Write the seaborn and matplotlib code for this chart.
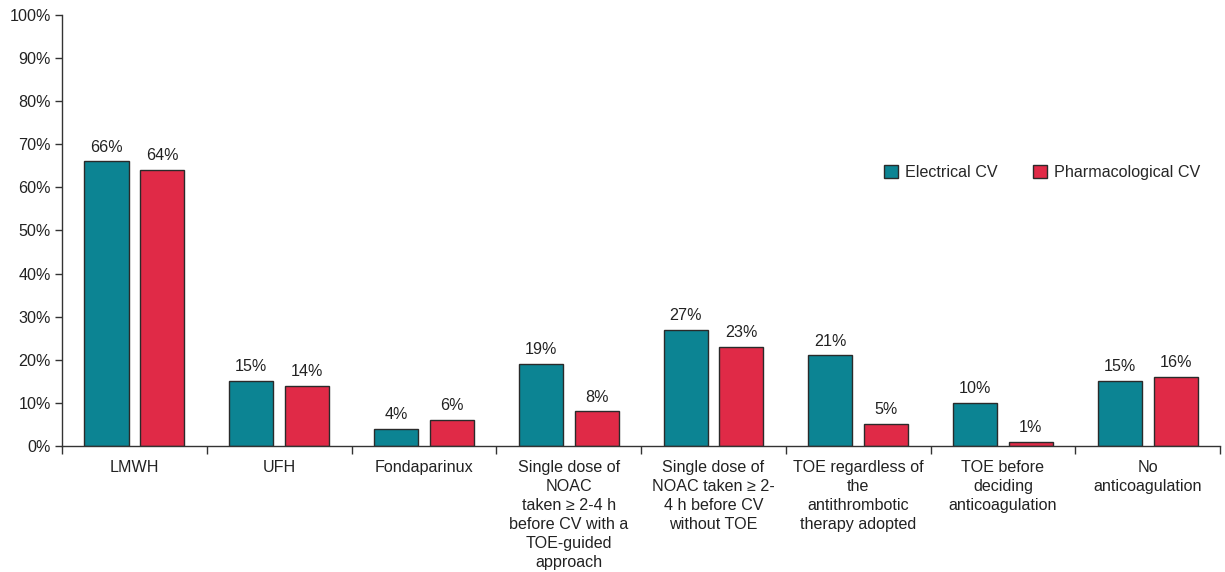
import matplotlib
matplotlib.use("Agg")
import matplotlib.pyplot as plt
import seaborn as sns
import pandas as pd
import numpy as np

categories = [
    "LMWH",
    "UFH",
    "Fondaparinux",
    "Single dose of\nNOAC\ntaken \u2265 2-4 h\nbefore CV with a\nTOE-guided\napproach",
    "Single dose of\nNOAC taken \u2265 2-\n4 h before CV\nwithout TOE",
    "TOE regardless of\nthe\nantithrombotic\ntherapy adopted",
    "TOE before\ndeciding\nanticoagulation",
    "No\nanticoagulation",
]
series_names = ["Electrical CV", "Pharmacological CV"]
electrical = [66, 15, 4, 19, 27, 21, 10, 15]
pharmacological = [64, 14, 6, 8, 23, 5, 1, 16]
y_ticks = list(range(0, 101, 10))
colors = ["#0c8493", "#e02a47"]

df = pd.DataFrame({
    "category": categories * 2,
    "value": electrical + pharmacological,
    "series": [series_names[0]] * len(categories) + [series_names[1]] * len(categories),
})

sns.set_theme(style="white")
plt.rcParams["font.family"] = ["Liberation Sans", "DejaVu Sans"]

FS = 11.6
fig, ax = plt.subplots(figsize=(12.25, 5.72), dpi=100)
fig.subplots_adjust(left=0.0506, right=0.996, top=0.974, bottom=0.2203)

sns.barplot(data=df, x="category", y="value", hue="series", order=categories,
            hue_order=series_names, palette=colors, width=0.77, gap=0.21,
            edgecolor="#2a2a2a", linewidth=1.0, saturation=1, ax=ax)

for c in ax.containers:
    ax.bar_label(c, fmt="%d%%", padding=5, fontsize=FS, color="#222222")

ax.set_ylim(0, 100)
ax.set_xlim(-0.5, len(categories) - 0.5)
ax.set_yticks(y_ticks)
ax.set_yticklabels([f"{t}%" for t in y_ticks], fontsize=FS, color="#222222")
ax.set_xticks(range(len(categories)))
ax.set_xticklabels(categories, fontsize=FS, color="#222222", linespacing=1.33, va="top")
ax.set_xticks(np.arange(-0.5, len(categories)), minor=True)
ax.tick_params(axis="x", which="major", length=0, pad=10)
ax.tick_params(axis="x", which="minor", length=6, width=1, color="#333333", direction="out", bottom=True)
ax.tick_params(axis="y", length=5, width=1, color="#333333", direction="out", left=True, pad=3)
ax.set_xlabel("")
ax.set_ylabel("")

for s in ["top", "right"]:
    ax.spines[s].set_visible(False)
for s in ["left", "bottom"]:
    ax.spines[s].set_color("#333333")
    ax.spines[s].set_linewidth(1.0)

ax.legend(loc="center right", bbox_to_anchor=(0.995, 0.635), ncol=2, frameon=False,
          fontsize=FS, handlelength=0.9, handleheight=0.9, columnspacing=2.2,
          handletextpad=0.4, title=None)

fig.savefig("out.png", dpi=100)
